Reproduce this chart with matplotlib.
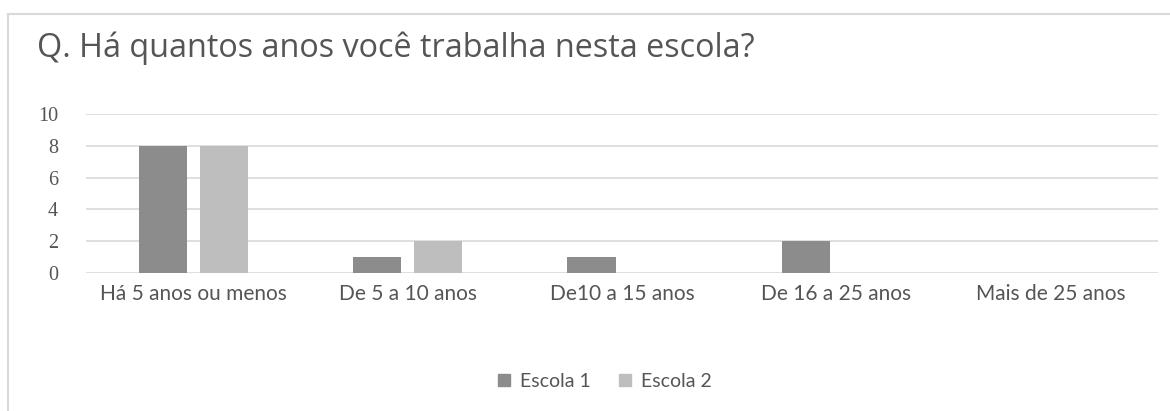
import numpy as np
import matplotlib
matplotlib.use("Agg")
import matplotlib.pyplot as plt
from matplotlib.lines import Line2D

categories = ["Há 5 anos ou menos", "De 5 a 10 anos", "De10 a 15 anos",
              "De 16 a 25 anos", "Mais de 25 anos"]
escola1 = [8, 1, 1, 2, 0]
escola2 = [8, 2, 0, 0, 0]
series_names = ["Escola 1", "Escola 2"]
yticks = [0, 2, 4, 6, 8, 10]

c1, c2 = "#8c8c8c", "#bebebe"
txt = "#555555"

W, H = 1170, 411
fig = plt.figure(figsize=(W / 100, H / 100), dpi=100)
ax = fig.add_axes([86 / W, 1 - 273 / H, (1158 - 86) / W, (273 - 114) / H])

x = np.arange(len(categories))
bw = 0.225
gap = 0.06
ax.bar(x - (bw + gap) / 2, escola1, bw, color=c1, zorder=3)
ax.bar(x + (bw + gap) / 2, escola2, bw, color=c2, zorder=3)

ax.set_xlim(-0.5, len(categories) - 0.5)
ax.set_ylim(0, 10)
ax.set_yticks(yticks)
ax.yaxis.grid(True, color="#d9d9d9", linewidth=1.2, zorder=0)
ax.set_axisbelow(True)
for s in ax.spines.values():
    s.set_visible(False)
ax.tick_params(length=0)
ax.set_xticks(x)
ax.set_xticklabels(categories, fontsize=15, color=txt, family="Lato")
ax.tick_params(axis="x", pad=8)
ax.tick_params(axis="y", pad=20)
for lab in ax.get_yticklabels():
    lab.set_fontfamily("Liberation Serif")
    lab.set_fontsize(14.5)
    lab.set_color(txt)

# title
fig.text(37 / W, 1 - 48 / H, "Q. Há quantos anos você trabalha nesta escola?",
         fontsize=23.3, color=txt, family="Open Sans", va="center", ha="left")

# legend
handles = [Line2D([], [], marker="s", linestyle="none", markersize=8,
                  markerfacecolor=c, markeredgecolor=c) for c in (c1, c2)]
fig.legend(handles, series_names, loc="center", bbox_to_anchor=(600 / W, 1 - 381 / H),
           ncol=2, frameon=False, handletextpad=0.0, columnspacing=1.0,
           handlelength=1.6, prop={"family": "Lato", "size": 14}, labelcolor=txt)

# chart area frame
fig.add_artist(Line2D([8 / W, 1.0], [1 - 14 / H, 1 - 14 / H], transform=fig.transFigure,
                      color="#d9d9d9", linewidth=1.5))
fig.add_artist(Line2D([8 / W, 8 / W], [0, 1 - 14 / H], transform=fig.transFigure,
                      color="#d9d9d9", linewidth=1.5))

fig.savefig("out.png", dpi=100)
